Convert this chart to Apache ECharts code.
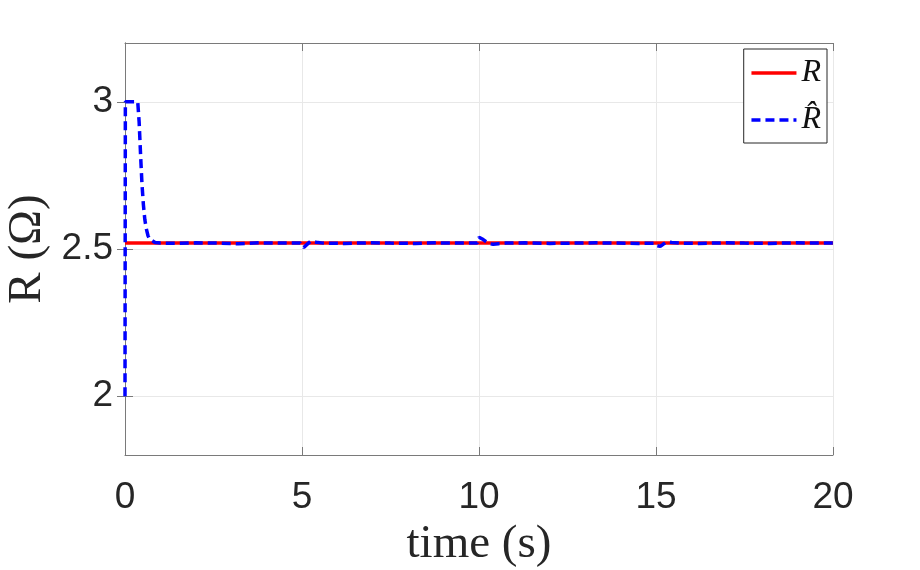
<!DOCTYPE html>
<html><head><meta charset="utf-8">
<script src="https://cdn.jsdelivr.net/npm/echarts@6/dist/echarts.min.js"></script>
<style>html,body{margin:0;padding:0;background:#fff}#c{width:920px;height:570px}</style>
</head><body><div id="c"></div>
<script>
// time (s) for the true resistance R
const tR = [0, 20];
const valR = [2.52, 2.52];
// time (s) and estimate R-hat
const tHat = [0, 0.01, 0.2, 0.36, 0.4, 0.44, 0.48, 0.52, 0.56, 0.6, 0.65, 0.7, 0.75, 0.85, 1.0, 1.5, 2.0, 2.6, 3.2, 3.8, 4.4, 4.95,
  5.0, 5.05, 5.1, 5.18, 5.25, 5.4, 5.6, 6.2, 6.9, 7.5, 8.2, 8.8, 9.4, 9.95,
  10.0, 10.05, 10.12, 10.2, 10.3, 10.4, 10.55, 10.75, 11.3, 12.0, 12.6, 13.3, 13.9, 14.5, 14.95,
  15.0, 15.05, 15.12, 15.2, 15.3, 15.45, 15.65, 16.2, 16.9, 17.5, 18.2, 18.9, 19.5, 20.0];
const valHat = [2.0, 3.0, 3.0, 3.0, 2.93, 2.82, 2.72, 2.65, 2.6, 2.57, 2.545, 2.533, 2.527, 2.522, 2.52, 2.519, 2.521, 2.52, 2.518, 2.521, 2.52, 2.52,
  2.512, 2.505, 2.508, 2.52, 2.527, 2.523, 2.52, 2.519, 2.521, 2.52, 2.519, 2.521, 2.52, 2.52,
  2.54, 2.538, 2.532, 2.525, 2.518, 2.516, 2.518, 2.52, 2.521, 2.519, 2.52, 2.521, 2.52, 2.519, 2.52,
  2.512, 2.507, 2.509, 2.516, 2.524, 2.522, 2.52, 2.519, 2.521, 2.52, 2.519, 2.521, 2.52, 2.52];
const xTicks = [0, 5, 10, 15, 20];
const yTicks = [2, 2.5, 3];
const seriesNames = ['R', 'R\u0302'];

const chart = echarts.init(document.getElementById('c'));
const axisCol = '#7a7a7a';
const labCol = '#262626';
const gridCol = '#e8e8e8';
chart.setOption({
  animation: false,
  backgroundColor: '#fff',
  grid: {left: 125, right: 87, top: 43, bottom: 115, containLabel: false, outerBoundsMode: 'none'},
  legend: {
    orient: 'vertical', right: 93, top: 49,
    backgroundColor: '#fff', borderColor: '#262626', borderWidth: 1,
    padding: [6, 6, 5, 6], itemWidth: 45, itemHeight: 14, itemGap: 11,
    itemStyle: {opacity: 0},
    lineStyle: {width: 3.5},
    textStyle: {fontFamily: 'Liberation Serif', fontStyle: 'italic', fontSize: 32, lineHeight: 36, color: '#111'},
    data: seriesNames
  },
  xAxis: [{
    type: 'value', min: 0, max: 20, interval: 5,
    name: 'time (s)', nameLocation: 'middle', nameGap: 66,
    nameTextStyle: {fontFamily: 'Liberation Serif', fontSize: 47, color: labCol},
    axisLine: {show: true, lineStyle: {color: axisCol, width: 1}},
    axisTick: {show: true, inside: true, length: 8, lineStyle: {color: axisCol}},
    axisLabel: {fontFamily: 'Liberation Sans', fontSize: 37, color: labCol, margin: 24,
      formatter: v => xTicks.includes(v) ? String(v) : ''},
    splitLine: {show: true, lineStyle: {color: gridCol, width: 1}}
  }, {
    type: 'value', min: 0, max: 20, interval: 5, position: 'top',
    axisLine: {show: true, lineStyle: {color: axisCol, width: 1}},
    axisTick: {show: true, inside: true, length: 8, lineStyle: {color: axisCol}},
    axisLabel: {show: false}, splitLine: {show: false}
  }],
  yAxis: [{
    type: 'value', min: 1.8, max: 3.2,
    name: 'R (\u03A9)', nameLocation: 'middle', nameGap: 74, nameRotate: 90,
    nameTextStyle: {fontFamily: 'Liberation Serif', fontSize: 47, color: labCol},
    axisLine: {show: true, lineStyle: {color: axisCol, width: 1}},
    axisTick: {show: true, inside: true, length: 8, lineStyle: {color: axisCol}, customValues: yTicks},
    axisLabel: {fontFamily: 'Liberation Sans', fontSize: 37, color: labCol, margin: 12,
      customValues: yTicks, formatter: v => String(v)},
    splitLine: {show: true, lineStyle: {color: gridCol, width: 1}}
  }, {
    type: 'value', min: 1.8, max: 3.2, position: 'right',
    axisLine: {show: true, lineStyle: {color: axisCol, width: 1}},
    axisTick: {show: true, inside: true, length: 8, lineStyle: {color: axisCol}, customValues: yTicks},
    axisLabel: {show: false}, splitLine: {show: false}
  }],
  series: [{
    name: seriesNames[0], type: 'line', showSymbol: false, symbol: 'none',
    data: tR.map((t, i) => [t, valR[i]]),
    lineStyle: {color: '#ff0000', width: 3.5}, itemStyle: {color: '#ff0000'}, z: 2
  }, {
    name: seriesNames[1], type: 'line', showSymbol: false, symbol: 'none',
    data: tHat.map((t, i) => [t, valHat[i]]),
    lineStyle: {color: '#0000ff', width: 3.5, type: [9, 5]}, itemStyle: {color: '#0000ff'}, z: 3
  }]
});
</script></body></html>
